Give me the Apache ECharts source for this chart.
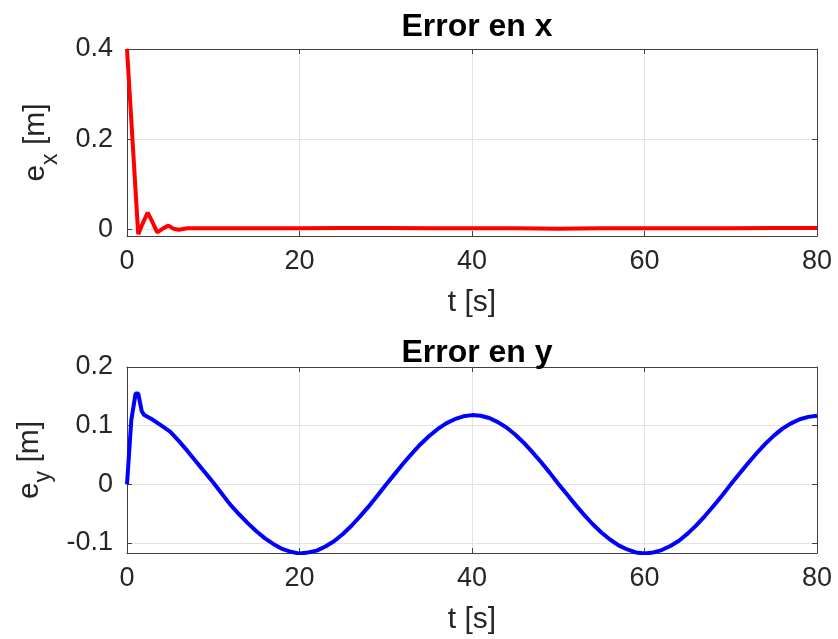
<!DOCTYPE html>
<html>
<head>
<meta charset="utf-8">
<script src="https://cdn.jsdelivr.net/npm/echarts@6/dist/echarts.min.js"></script>
<style>
  html, body { margin: 0; padding: 0; background: #fff; }
  #chart { width: 838px; height: 639px; }
</style>
</head>
<body>
<div id="chart"></div>
<script>
// Position error in x over time
const tX = [0, 1.3, 1.8, 2.4, 2.9, 3.5, 4.2, 4.8, 5.4, 6, 7, 8, 10, 15, 20, 25, 30, 35, 40, 45, 50, 55, 60, 65, 70, 75, 80];
const ex = [0.4, -0.011, 0.012, 0.037, 0.018, -0.007, 0.002, 0.008, 0.001, -0.001, 0.002, 0.002, 0.002, 0.002, 0.002, 0.003, 0.003, 0.002, 0.002, 0.002, 0.001, 0.002, 0.002, 0.002, 0.002, 0.003, 0.003];

// Position error in y over time
const tY = [0, 0.5, 1.0, 1.3, 1.7, 2, 3, 4, 5, 6, 7, 8, 9, 10, 11, 12, 13, 14, 15, 16, 17, 18, 19, 20,
  21, 22, 23, 24, 25, 26, 27, 28, 29, 30, 31, 32, 33, 34, 35, 36, 37, 38, 39, 40,
  41, 42, 43, 44, 45, 46, 47, 48, 49, 50, 51, 52, 53, 54, 55, 56, 57, 58, 59, 60,
  61, 62, 63, 64, 65, 66, 67, 68, 69, 70, 71, 72, 73, 74, 75, 76, 77, 78, 79, 80];
const ey = [0, 0.11, 0.155, 0.155, 0.125, 0.118, 0.110, 0.100, 0.090, 0.074, 0.057, 0.039, 0.021, 0.003, -0.016, -0.035, -0.051, -0.066, -0.080, -0.092, -0.102, -0.110, -0.115, -0.118,
  -0.116, -0.113, -0.106, -0.097, -0.085, -0.071, -0.055, -0.038, -0.020, -0.001, 0.017, 0.035, 0.052, 0.068, 0.082, 0.094, 0.104, 0.111, 0.116, 0.118,
  0.117, 0.113, 0.106, 0.097, 0.085, 0.071, 0.055, 0.038, 0.020, 0.001, -0.017, -0.035, -0.052, -0.068, -0.082, -0.094, -0.104, -0.111, -0.116, -0.118,
  -0.116, -0.112, -0.105, -0.096, -0.084, -0.070, -0.054, -0.037, -0.019, 0.000, 0.018, 0.036, 0.053, 0.069, 0.083, 0.095, 0.104, 0.111, 0.115, 0.117];

// Tick values
const tTicks = [0, 20, 40, 60, 80];
const exTicks = [0, 0.2, 0.4];
const eyTicks = [-0.1, 0, 0.1, 0.2];

const FONT = 'Liberation Sans';
const TXT = '#262626';
const AX = '#404040';
const GRIDC = '#e3e3e3';

const zip = (a, b) => a.map((v, i) => [v, b[i]]);

const tickIn = { show: true, inside: true, length: 5, lineStyle: { color: AX, width: 1 } };
const frameLine = { show: true, onZero: false, lineStyle: { color: AX, width: 1 } };

function xAxes(gridIndex) {
  return [
    {
      gridIndex, type: 'value', min: 0, max: 80, interval: 20, position: 'bottom',
      name: 't [s]', nameLocation: 'middle', nameGap: 52,
      nameTextStyle: { fontFamily: FONT, fontSize: 30, color: TXT },
      axisLine: frameLine,
      axisTick: Object.assign({}, tickIn, { customValues: tTicks }),
      axisLabel: { fontFamily: FONT, fontSize: 27, color: TXT, margin: 12, customValues: tTicks },
      splitLine: { show: true, lineStyle: { color: GRIDC, width: 1 } }
    },
    {
      gridIndex, type: 'value', min: 0, max: 80, interval: 20, position: 'top',
      axisLine: frameLine,
      axisTick: tickIn,
      axisLabel: { show: false },
      splitLine: { show: false }
    }
  ];
}

function yAxes(gridIndex, min, max, ticks, nameRich) {
  return [
    {
      gridIndex, type: 'value', min, max, position: 'left',
      name: nameRich, nameLocation: 'middle', nameGap: 70, nameRotate: 90,
      nameTextStyle: {
        fontFamily: FONT, color: TXT,
        rich: {
          m: { fontFamily: FONT, fontSize: 30, color: TXT, lineHeight: 36, verticalAlign: 'top' },
          s: { fontFamily: FONT, fontSize: 23, color: TXT, lineHeight: 26, padding: [18, 0, 0, 0], verticalAlign: 'top' }
        }
      },
      axisLine: frameLine,
      axisTick: Object.assign({}, tickIn, { customValues: ticks }),
      axisLabel: { fontFamily: FONT, fontSize: 27, color: TXT, margin: 14, customValues: ticks },
      splitLine: { show: true, lineStyle: { color: GRIDC, width: 1 } }
    },
    {
      gridIndex, type: 'value', min, max, position: 'right',
      axisLine: frameLine,
      axisTick: Object.assign({}, tickIn, { customValues: ticks }),
      axisLabel: { show: false, customValues: ticks },
      splitLine: { show: false }
    }
  ];
}

const chart = echarts.init(document.getElementById('chart'), null, { renderer: 'canvas' });

chart.setOption({
  backgroundColor: '#ffffff',
  animation: false,
  title: [
    { text: 'Error en x', left: 472, top: 6, textAlign: 'center',
      textStyle: { fontFamily: FONT, fontSize: 32, fontWeight: 'bold', color: '#000' } },
    { text: 'Error en y', left: 472, top: 332, textAlign: 'center',
      textStyle: { fontFamily: FONT, fontSize: 32, fontWeight: 'bold', color: '#000' } }
  ],
  grid: [
    { left: 127, right: 21, top: 49, height: 187, show: false },
    { left: 127, right: 21, top: 367, height: 186, show: false }
  ],
  xAxis: [...xAxes(0), ...xAxes(1)],
  yAxis: [
    ...yAxes(0, -0.015, 0.4, exTicks, '{m|e}{s|x}{m| [m]}'),
    ...yAxes(1, -0.117, 0.2, eyTicks, '{m|e}{s|y}{m| [m]}')
  ],
  series: [
    {
      type: 'line', xAxisIndex: 0, yAxisIndex: 0,
      data: zip(tX, ex), showSymbol: false, symbol: 'none',
      lineStyle: { color: '#ff0000', width: 4 }
    },
    {
      type: 'line', xAxisIndex: 2, yAxisIndex: 2,
      data: zip(tY, ey), showSymbol: false, symbol: 'none',
      lineStyle: { color: '#0000ff', width: 4 }
    }
  ]
});
</script>
</body>
</html>
